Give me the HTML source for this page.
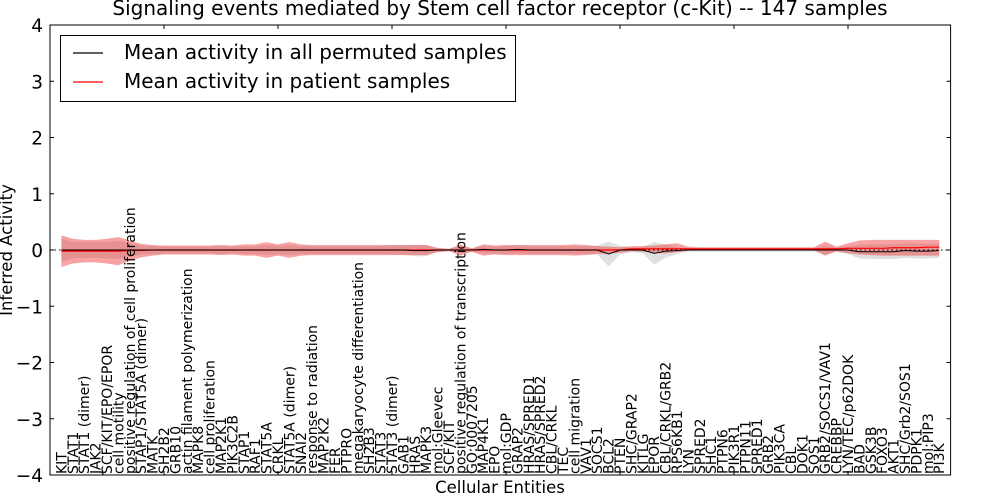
<!DOCTYPE html>
<html><head><meta charset="utf-8"><style>
body{margin:0;background:#fff;}
svg{display:block;font-family:"DejaVu Sans","Liberation Sans",sans-serif;}
</style></head><body>
<svg id="chart" width="1000" height="500">
<text x="500" y="15" text-anchor="middle" font-size="20">Signaling events mediated by Stem cell factor receptor (c-Kit) -- 147 samples</text>
<g id="plot"></g>
<text x="500" y="493" text-anchor="middle" font-size="16.5">Cellular Entities</text>
<text transform="translate(12,250) rotate(-90)" text-anchor="middle" font-size="16.5">Inferred Activity</text>
<g>
<rect x="60.5" y="35.5" width="455" height="66" fill="#fff" stroke="#000" stroke-width="1"/>
<line x1="73" y1="53" x2="103" y2="53" stroke="#000" stroke-width="1.2"/>
<text x="124" y="59" font-size="20">Mean activity in all permuted samples</text>
<line x1="73" y1="82" x2="103" y2="82" stroke="#f00" stroke-width="1.2"/>
<text x="124" y="88" font-size="20">Mean activity in patient samples</text>
</g>
</svg>
<script>
const categories=["KIT","STAT1","STAT1 (dimer)","JAK2","SCF/KIT/EPO/EPOR","cell motility","positive regulation of cell proliferation","STAP1/STAT5A (dimer)","MATK","SH2B2","GRB10","actin filament polymerization","MAPK8","cell proliferation","MAP2K1","PIK3C2B","STAP1","RAF1","STAT5A","CRKL","STAT5A (dimer)","SNAI2","response to radiation","MAP2K2","FER","PTPRO","megakaryocyte differentiation","SH2B3","STAT3","STAT3 (dimer)","GAB1","HRAS","MAPK3","mol:Gleevec","SCF/KIT","positive regulation of transcription","GO:0007205","MAP4K1","EPO","mol:GDP","GRAP2","HRAS/SPRED1","HRAS/SPRED2","CBL/CRKL","TEC","cell migration","VAV1","SOCS1","BCL2","PTEN","SHC/GRAP2","KITLG","EPOR","CBL/CRKL/GRB2","RPS6KB1","LYN","SPRED2","SHC1","PTPN6","PIK3R1","PTPN11","SPRED1","GRB2","PIK3CA","CBL","DOK1","SOS1","GRB2/SOCS1/VAV1","CREBBP","LYN/TEC/p62DOK","BAD","GSK3B","FOXO3","AKT1","SHC/Grb2/SOS1","PDPK1","mol:PIP3","PI3K"];
const patientMean=[-0.02,-0.02,-0.02,-0.02,-0.02,-0.02,-0.01,-0.01,0,0,0,0,0,0,0,0,0,0,0,0,0,0,0,0,0,0,0,0,0,0,0,0,0,0,0,0,0,0,0,0,0,0,0,0,0,0,0,0,0,0,0.02,0.02,0.02,0.02,0.02,0.02,0.02,0.02,0.02,0.02,0.02,0.02,0.02,0.02,0.02,0.02,0.02,0.02,0.02,0.03,0.03,0.03,0.03,0.04,0.04,0.04,0.05,0.05];
const patientHigh=[0.26,0.2,0.18,0.18,0.2,0.23,0.17,0.11,0.09,0.08,0.08,0.08,0.08,0.08,0.09,0.08,0.1,0.1,0.14,0.1,0.14,0.1,0.09,0.09,0.09,0.09,0.09,0.09,0.09,0.09,0.09,0.09,0.09,0.04,0.02,0.1,0.03,0.1,0.08,0.09,0.09,0.09,0.09,0.09,0.09,0.1,0.09,0.07,0.06,0.05,0.07,0.07,0.08,0.1,0.12,0.06,0.05,0.05,0.05,0.05,0.05,0.05,0.05,0.05,0.05,0.05,0.05,0.15,0.06,0.12,0.17,0.18,0.18,0.18,0.18,0.18,0.18,0.18];
const patientLow=[-0.3,-0.24,-0.22,-0.22,-0.24,-0.27,-0.19,-0.13,-0.1,-0.08,-0.08,-0.08,-0.08,-0.08,-0.09,-0.08,-0.1,-0.1,-0.14,-0.1,-0.14,-0.1,-0.09,-0.09,-0.09,-0.09,-0.09,-0.09,-0.09,-0.09,-0.09,-0.09,-0.09,-0.04,-0.02,-0.1,-0.03,-0.1,-0.08,-0.09,-0.09,-0.09,-0.09,-0.09,-0.09,-0.1,-0.09,-0.07,-0.06,-0.05,-0.02,-0.03,-0.05,-0.06,-0.04,-0.01,0,0,0,0,0,0,0,0,0,0,0,-0.1,-0.02,-0.06,-0.08,-0.09,-0.1,-0.1,-0.1,-0.1,-0.1,-0.1];
const permutedMean=[0,0,0,0,0,0,0,0,0,0,0,0,0,0,0,0,0,0,0,0,0,0,0,0,0,0,0,0,0,0,0,-0.01,-0.01,0,0,0,0,0.01,0,0,0.01,0,0,0,0,0,0,0,-0.07,0,0,0,-0.06,-0.02,-0.01,0,0,0,0,0,0,0,0,0,0,0,0,0,0,0,-0.03,-0.03,-0.03,-0.03,-0.01,-0.02,-0.02,-0.01];
const permutedHalfWidth=[0.2,0.15,0.14,0.14,0.15,0.16,0.12,0.08,0.07,0.06,0.06,0.06,0.06,0.06,0.07,0.06,0.07,0.07,0.09,0.07,0.09,0.07,0.07,0.07,0.07,0.07,0.07,0.07,0.07,0.08,0.08,0.1,0.1,0.03,0.02,0.06,0.03,0.06,0.06,0.07,0.07,0.07,0.07,0.07,0.07,0.07,0.07,0.08,0.22,0.08,0.04,0.06,0.2,0.12,0.06,0.03,0.03,0.03,0.03,0.03,0.03,0.03,0.03,0.03,0.03,0.03,0.03,0.08,0.04,0.07,0.12,0.13,0.13,0.13,0.13,0.13,0.13,0.13];
const yTicks=[-4,-3,-2,-1,0,1,2,3,4];
const xTicks=[0,10,20,30,40,50,60,70];

const NS="http://www.w3.org/2000/svg";
const L=50,R=950.6,T=25,B=475,XMAX=79,YMIN=-4,YMAX=4;
const xs=i=>L+(i)*(R-L)/XMAX;
const ys=v=>B-(v-YMIN)*(B-T)/(YMAX-YMIN);
const plot=document.getElementById('plot');
function mk(tag,attrs,parent){const e=document.createElementNS(NS,tag);for(const k in attrs)e.setAttribute(k,attrs[k]);(parent||plot).appendChild(e);return e;}
function band(hi,lo){let d='';hi.forEach((v,i)=>{d+=(i?'L':'M')+xs(i+1)+','+ys(v)});for(let i=lo.length-1;i>=0;i--)d+='L'+xs(i+1)+','+ys(lo[i]);return d+'Z';}
function line(arr){return arr.map((v,i)=>(i?'L':'M')+xs(i+1)+','+ys(v)).join('');}

const permBand=mk('path',{d:band(permutedMean.map((m,i)=>m+permutedHalfWidth[i]),permutedMean.map((m,i)=>m-permutedHalfWidth[i])),fill:'#bbbbbb','fill-opacity':'0.45',stroke:'none'});


const patBand=mk('path',{d:band(patientHigh,patientLow),fill:'#e33','fill-opacity':'0.45',stroke:'none'});


const zero=mk('line',{x1:L,x2:R,y1:ys(0),y2:ys(0),stroke:'#000','stroke-dasharray':'1.5,3','stroke-width':1});


const patLine=mk('path',{d:line(patientMean),fill:'none',stroke:'#f00','stroke-width':1.2});


const permLine=mk('path',{d:line(permutedMean),fill:'none',stroke:'#000','stroke-width':1});



yTicks.forEach(v=>{
  const y=ys(v);
  mk('line',{x1:L,x2:L+4,y1:y,y2:y,stroke:'#000'});
  mk('line',{x1:R-4,x2:R,y1:y,y2:y,stroke:'#000'});
  const t=mk('text',{x:L-7,y:y+7,'text-anchor':'end','font-size':18.5});
  t.textContent=(v<0?'\u2212'+(-v):String(v));
  
  
});
xTicks.forEach(v=>{
  const x=xs(v);
  mk('line',{x1:x,x2:x,y1:T,y2:T+4,stroke:'#000'});
  mk('line',{x1:x,x2:x,y1:B-4,y2:B,stroke:'#000'});
});
categories.forEach((c,i)=>{
  const x=xs(i+1);
  const t=mk('text',{transform:'translate('+(x+5)+','+(B-1)+') rotate(-90)','font-size':14});
  t.textContent=c;
  
  
});
const frame=mk('rect',{x:L,y:T,width:R-L,height:B-T,fill:'none',stroke:'#000','stroke-width':1});


</script>
</body></html>
